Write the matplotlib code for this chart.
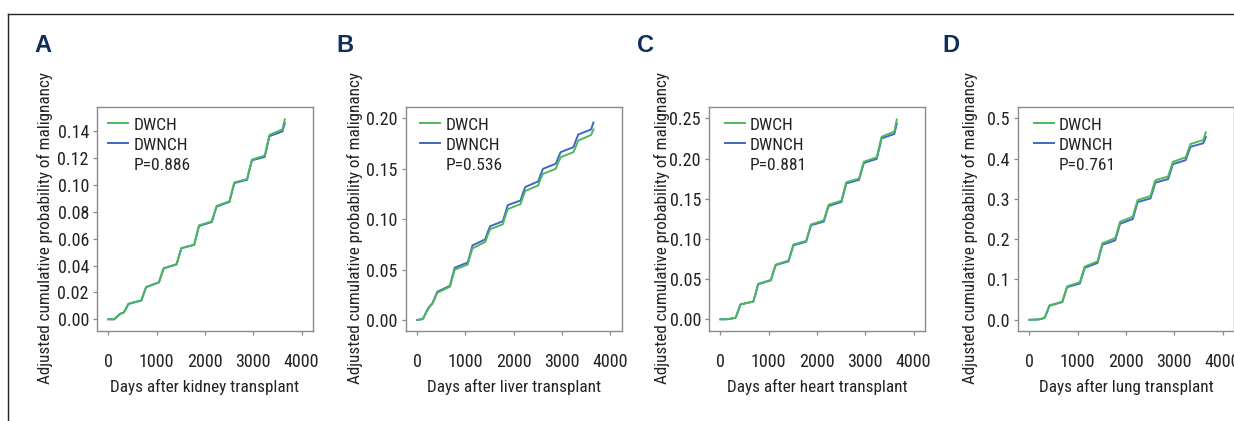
import matplotlib
matplotlib.use("Agg")
import matplotlib.pyplot as plt
from matplotlib.lines import Line2D

plt.rcParams["font.family"] = ["Roboto Condensed", "DejaVu Sans"]

# knot days shared by every curve (10 years of follow-up)
days = [0, 120, 180, 240, 315, 365, 415, 680, 730, 780, 1045, 1095, 1145,
        1410, 1460, 1510, 1775, 1825, 1875, 2140, 2190, 2240, 2505, 2555, 2605,
        2870, 2920, 2970, 3235, 3285, 3335, 3600, 3650]

# kidney
kidney_dwch = [0, 0, 0.002, 0.004, 0.005, 0.008, 0.0115, 0.014, 0.019, 0.024,
               0.0275, 0.033, 0.038, 0.041, 0.047, 0.053, 0.0555, 0.063, 0.070,
               0.073, 0.079, 0.0845, 0.088, 0.095, 0.102, 0.1045, 0.112, 0.119,
               0.122, 0.130, 0.1375, 0.1415, 0.149]
kidney_dwnch = [0, 0, 0.002, 0.004, 0.005, 0.008, 0.0115, 0.014, 0.019, 0.024,
                0.0275, 0.033, 0.038, 0.041, 0.047, 0.053, 0.0555, 0.0625, 0.0695,
                0.0725, 0.0785, 0.084, 0.0875, 0.0945, 0.1015, 0.104, 0.1115, 0.1185,
                0.121, 0.129, 0.1365, 0.140, 0.146]

# liver
liver_dwch = [0, 0.001, 0.007, 0.012, 0.016, 0.021, 0.027, 0.033, 0.042, 0.050,
              0.055, 0.063, 0.071, 0.0775, 0.084, 0.090, 0.095, 0.103, 0.110,
              0.115, 0.122, 0.128, 0.1335, 0.140, 0.145, 0.150, 0.156, 0.1615,
              0.1665, 0.172, 0.178, 0.1835, 0.189]
liver_dwnch = [0, 0.001, 0.007, 0.0125, 0.0165, 0.022, 0.028, 0.034, 0.0435, 0.052,
               0.057, 0.065, 0.074, 0.080, 0.087, 0.093, 0.098, 0.106, 0.114,
               0.1185, 0.126, 0.132, 0.1375, 0.144, 0.150, 0.155, 0.161, 0.1665,
               0.1715, 0.178, 0.184, 0.189, 0.196]

# heart
heart_dwch = [0, 0, 0.0005, 0.001, 0.002, 0.010, 0.0185, 0.022, 0.032, 0.044,
              0.049, 0.059, 0.068, 0.073, 0.083, 0.093, 0.0975, 0.108, 0.118,
              0.123, 0.133, 0.1425, 0.1475, 0.159, 0.1705, 0.175, 0.186, 0.196,
              0.2015, 0.214, 0.227, 0.2335, 0.2485]
heart_dwnch = [0, 0, 0.0005, 0.001, 0.002, 0.010, 0.0185, 0.022, 0.032, 0.0435,
               0.0485, 0.0585, 0.0675, 0.072, 0.082, 0.092, 0.0965, 0.107, 0.117,
               0.1215, 0.1315, 0.141, 0.146, 0.1575, 0.169, 0.1735, 0.1845, 0.1945,
               0.1995, 0.212, 0.225, 0.2305, 0.2435]

# lung
lung_dwch = [0, 0.0005, 0.001, 0.002, 0.005, 0.020, 0.036, 0.045, 0.064, 0.083,
             0.093, 0.113, 0.132, 0.145, 0.168, 0.190, 0.2025, 0.222, 0.243,
             0.256, 0.277, 0.297, 0.307, 0.327, 0.346, 0.3555, 0.374, 0.392,
             0.403, 0.420, 0.436, 0.446, 0.465]
lung_dwnch = [0, 0.0005, 0.001, 0.002, 0.005, 0.019, 0.035, 0.044, 0.062, 0.081,
              0.090, 0.110, 0.129, 0.141, 0.164, 0.186, 0.197, 0.217, 0.238,
              0.250, 0.271, 0.292, 0.301, 0.320, 0.340, 0.349, 0.367, 0.386,
              0.396, 0.413, 0.429, 0.438, 0.453]

panel_letters = ["A", "B", "C", "D"]
organs = ["kidney", "liver", "heart", "lung"]
p_values = ["0.886", "0.536", "0.881", "0.761"]
dwch = [kidney_dwch, liver_dwch, heart_dwch, lung_dwch]
dwnch = [kidney_dwnch, liver_dwnch, heart_dwnch, lung_dwnch]
yticks = [[0.00, 0.02, 0.04, 0.06, 0.08, 0.10, 0.12, 0.14],
          [0.00, 0.05, 0.10, 0.15, 0.20],
          [0.00, 0.05, 0.10, 0.15, 0.20, 0.25],
          [0.0, 0.1, 0.2, 0.3, 0.4, 0.5]]
ylims = [(-0.0085, 0.158), (-0.0106, 0.211), (-0.0142, 0.2637), (-0.027, 0.527)]
yfmt = ["{:.2f}", "{:.2f}", "{:.2f}", "{:.1f}"]
xticks = [0, 1000, 2000, 3000, 4000]

green = "#4cb85c"
blue = "#4166c4"
navy = "#0e2f5c"
spine_gray = "#8a8a8a"
text_col = "#222222"

W, H = 1234, 421
fig = plt.figure(figsize=(W / 100, H / 100), dpi=100)

# outer frame (top and left edges only)
fig.add_artist(Line2D([8.3 / W, 1], [1 - 14.3 / H, 1 - 14.3 / H], color="#222222", lw=1.0))
fig.add_artist(Line2D([8.3 / W, 8.3 / W], [0, 1 - 14.3 / H], color="#222222", lw=1.0))

ax_left = [97.3, 406.0, 709.3, 1018.3]
letter_x = [34, 336, 637, 942]
ylab_x = [-0.205, -0.200, -0.182, -0.187]
leg_x = [0.05, 0.065, 0.072, 0.072]

for i in range(4):
    ax = fig.add_axes([ax_left[i] / W, 1 - 330.7 / H, 215.5 / W, 223.4 / H])
    ax.plot(days, dwnch[i], color=blue, lw=1.4)
    ax.plot(days, dwch[i], color=green, lw=1.4)
    ax.set_xlim(-230, 4230)
    ax.set_ylim(*ylims[i])
    ax.set_xticks(xticks)
    ax.set_xticklabels([str(t) for t in xticks])
    ax.set_yticks(yticks[i])
    ax.set_yticklabels([yfmt[i].format(t) for t in yticks[i]])
    for s in ax.spines.values():
        s.set_color(spine_gray)
        s.set_linewidth(1.0)
    ax.tick_params(axis="both", direction="out", length=3, width=0.9,
                   color=spine_gray, labelcolor=text_col, labelsize=13)
    ax.tick_params(axis="x", pad=13)
    ax.tick_params(axis="y", pad=3)
    ax.set_xlabel(f"Days after {organs[i]} transplant", fontsize=12.3, color=text_col)
    ax.set_ylabel("Adjusted cumulative probability of malignancy", fontsize=12.3,
                  color=text_col)
    ax.xaxis.set_label_coords(0.5, -0.218)
    ax.yaxis.set_label_coords(ylab_x[i], 0.46)

    handles = [Line2D([], [], color=green, lw=1.4),
               Line2D([], [], color=blue, lw=1.4),
               Line2D([], [], color="none")]
    ax.legend(handles, ["DWCH", "DWNCH", f"P={p_values[i]}"], loc="upper left",
              bbox_to_anchor=(leg_x[i], 0.955), frameon=False, fontsize=12.5,
              borderaxespad=0, borderpad=0, handlelength=1.15, handletextpad=0.3,
              labelspacing=0.28, labelcolor=text_col)

    fig.text(letter_x[i] / W, 1 - 46 / H, panel_letters[i], fontsize=17,
             fontweight="bold", color=navy, va="center", ha="left",
             family=["Liberation Sans", "DejaVu Sans"])

fig.savefig("out.png", dpi=100)
